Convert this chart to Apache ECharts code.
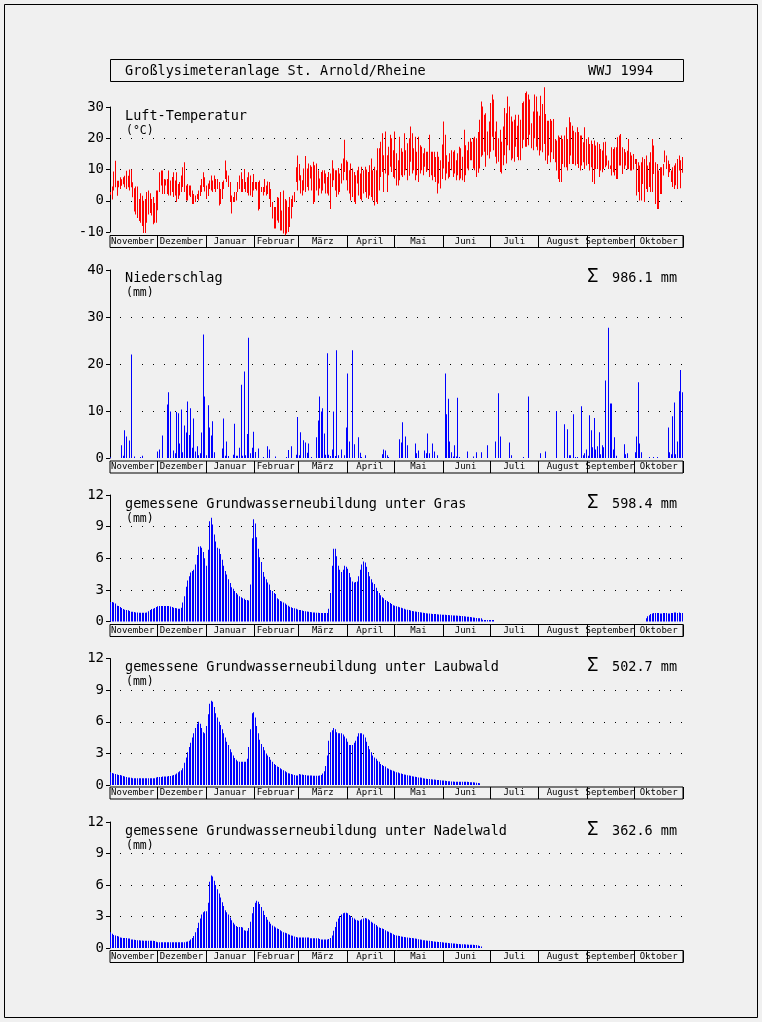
<!DOCTYPE html>
<html><head><meta charset="utf-8">
<script src="https://cdn.jsdelivr.net/npm/echarts@6/dist/echarts.min.js"></script>
<style>html,body{margin:0;padding:0;background:#f0f0f0}#c{width:762px;height:1022px}</style>
</head><body><div id="c"></div>
<script>
// ---------- DATA (hydrological year Nov 1993 - Oct 1994, daily) ----------
const monthNames = ['November','Dezember','Januar','Februar','März','April','Mai','Juni','Juli','August','September','Oktober'];
const monthLengths = [30,31,31,28,31,30,31,30,31,31,30,31];
const mainTitle = 'Großlysimeteranlage St. Arnold/Rheine';
const yearLabel = 'WWJ 1994';
const panelTitles = ['Luft-Temperatur','Niederschlag','gemessene Grundwasserneubildung unter Gras','gemessene Grundwasserneubildung unter Laubwald','gemessene Grundwasserneubildung unter Nadelwald'];
const panelUnits = ['(°C)','(mm)','(mm)','(mm)','(mm)'];
const panelSums = [null,'986.1 mm','598.4 mm','502.7 mm','362.6 mm'];

// daily maximum air temperature (°C)
const tempMax = [
2.8,4.6,9.4,12.8,6.4,6.4,7.5,6.9,7.5,8.0,9.6,8.0,10.0,10.0,5.9,4.0,4.6,4.6,0.6,2.4,1.6,0.0,0.6,2.8,3.3,2.4,0.6,1.2,-0.7,3.3,
3.3,9.1,9.7,9.7,7.0,6.8,7.0,9.7,6.5,7.6,9.1,6.5,9.1,5.4,6.0,8.1,10.7,12.3,4.9,5.4,4.9,4.9,3.3,2.2,1.7,2.2,3.3,5.0,7.0,9.1,7.5,
4.9,5.5,6.5,8.1,6.5,8.1,7.0,7.0,6.0,3.8,6.0,6.5,12.9,9.7,8.1,6.0,1.7,1.2,2.8,2.8,6.0,8.1,9.1,7.0,10.2,6.0,7.5,9.1,8.1,6.0,8.6,
6.0,6.0,6.0,6.5,4.4,4.4,7.0,4.9,6.2,6.0,3.8,-0.4,-2.0,-2.0,1.2,1.0,2.8,-3.1,3.3,0.6,0.1,-2.0,1.2,0.6,1.7,2.8,10.7,14.5,
11.8,8.2,6.6,10.3,14.3,10.3,11.9,11.4,10.9,12.5,11.4,11.9,9.8,7.1,9.2,9.8,9.8,8.7,7.6,9.2,8.7,13.0,10.3,9.8,9.8,10.5,8.7,11.9,13.5,19.5,13.0,
12.5,9.8,11.9,10.3,9.2,8.2,9.8,10.9,8.7,10.9,9.8,10.9,10.0,9.2,11.4,13.5,9.8,10.9,9.8,16.8,16.8,18.9,21.6,14.6,22.2,14.6,17.3,21.1,20.0,16.2,
22.2,15.2,13.0,20.5,16.8,15.7,21.6,16.2,18.4,20.0,23.8,21.6,16.8,20.5,15.7,20.5,17.8,17.3,15.2,16.8,15.7,15.7,21.1,15.7,15.7,15.7,14.0,15.7,14.1,13.0,18.0,
25.4,21.1,14.6,12.5,15.2,16.2,15.7,16.2,13.0,15.2,17.3,16.8,14.1,22.7,17.8,16.2,18.9,20.0,18.9,20.0,20.5,20.0,22.0,25.9,31.8,30.2,27.5,28.0,22.2,25.4,
31.3,34.0,32.4,22.2,25.4,20.0,22.7,18.9,23.8,29.7,28.0,33.4,30.2,27.0,25.4,25.9,27.5,24.0,27.5,25.9,31.3,31.8,34.5,35.0,34.0,32.4,24.8,28.6,34.0,33.4,28.6,
27.2,33.6,31.0,36.3,27.8,25.6,25.6,26.2,25.6,26.2,19.8,19.3,20.9,20.3,20.9,19.8,20.9,23.5,19.8,26.7,25.1,24.0,22.4,21.9,23.5,22.0,20.9,20.9,18.7,23.5,19.8,
20.3,18.2,19.3,18.2,19.3,17.7,18.7,18.2,16.6,16.1,18.7,18.9,14.5,12.9,11.3,17.1,16.6,17.1,17.1,20.3,20.9,21.4,17.1,16.6,15.5,16.0,19.8,15.5,14.5,15.0,
13.4,13.4,12.3,11.3,12.3,13.9,13.4,14.5,11.3,12.3,15.5,19.8,17.7,12.3,11.8,9.7,10.7,10.7,11.8,16.1,14.5,12.9,11.8,9.7,10.7,11.3,12.0,13.4,14.5,13.0,14.0
];
// daily minimum air temperature (°C)
const tempMin = [
1.9,0.4,3.3,4.3,1.6,4.3,3.8,4.8,5.3,4.3,3.8,4.3,3.3,4.3,1.1,-3.4,-4.4,-5.5,-6.5,-7.0,-8.1,-10.3,-10.3,-7.0,-4.4,-3.9,-4.7,-7.5,-7.0,-7.0,
-3.0,2.8,4.9,2.2,2.2,4.9,2.2,1.7,1.7,2.8,1.2,1.7,-0.4,0.6,1.7,2.8,4.4,2.8,0.1,0.1,1.7,1.2,-1.0,-1.0,-0.4,0.6,0.1,1.5,2.8,4.4,3.0,
0.6,1.5,3.8,3.3,2.8,3.8,2.8,3.8,-1.5,-1.0,0.6,3.8,7.0,6.0,4.4,-0.4,-4.1,-0.4,-0.4,0.1,2.8,3.8,2.8,2.8,3.8,2.8,2.5,1.7,1.7,1.2,3.3,
3.8,3.3,-3.1,-2.6,2.8,1.7,2.8,1.7,2.2,0.6,-2.0,-5.7,-8.9,-8.9,-6.3,-7.0,-9.5,-9.5,-10.5,-11.0,-10.5,-10.0,-8.4,-5.7,-2.0,-0.4,6.0,3.3,
6.5,2.3,1.7,3.3,2.8,4.4,3.3,7.1,3.3,-1.0,-0.4,3.3,1.7,3.9,2.3,3.3,5.5,2.3,2.3,1.7,-2.6,4.4,6.6,3.3,1.2,2.0,2.8,5.5,6.6,9.2,6.6,
3.3,2.3,0.1,1.2,-0.4,-1.0,5.5,1.7,0.6,0.1,2.3,2.8,1.0,0.6,1.7,1.2,0.1,-1.5,-0.4,-1.0,3.3,7.6,9.2,2.8,8.7,2.8,8.2,10.9,9.2,7.6,
7.1,4.9,4.9,6.6,8.2,7.6,8.2,9.8,6.6,8.0,12.5,8.7,9.8,6.6,8.2,6.0,8.7,9.8,8.2,10.9,9.2,9.8,7.6,8.2,6.6,7.6,6.0,2.3,5.5,3.9,7.0,
10.3,6.6,8.7,7.1,7.6,9.8,7.6,8.7,6.6,8.2,6.6,7.1,6.6,6.0,8.2,10.3,9.8,13.0,13.0,10.3,9.8,7.6,9.0,10.3,14.1,14.6,15.7,10.9,14.6,13.5,
15.7,20.5,16.2,14.1,11.9,12.5,9.2,8.7,11.4,14.6,11.9,17.8,16.2,13.0,13.5,12.5,17.3,14.0,13.0,13.0,16.8,19.5,17.3,17.3,17.8,21.1,16.8,16.2,20.0,17.3,16.2,
14.5,16.1,15.5,18.2,12.9,11.8,14.5,12.3,15.5,13.4,12.3,9.7,7.0,6.0,6.0,11.8,10.7,10.7,9.7,11.8,14.5,11.8,11.8,11.3,11.8,10.5,9.7,11.3,12.3,10.2,11.3,
11.8,9.7,10.7,6.0,5.4,10.2,10.2,7.6,9.7,9.1,10.2,10.7,11.3,10.2,10.2,8.1,9.1,8.1,7.0,7.0,11.3,11.3,8.6,10.2,11.3,10.0,10.2,9.7,9.7,10.0,
11.8,1.7,2.8,0.1,0.1,5.4,-0.4,3.8,2.8,4.4,2.8,2.8,8.6,-1.0,-2.6,-2.6,2.2,2.2,8.1,12.3,10.2,7.6,9.1,6.0,4.4,3.8,5.0,3.8,9.7,4.0,9.0
];
// precipitation events [day index, mm]; days not listed had no precipitation
const precipEvents = [
[0,0.2],[7,2.7],[8,0.5],[9,5.9],[10,4.6],[12,3.7],[13,22.0],[15,0.3],[19,0.2],[20,0.5],
[30,1.4],[31,1.8],[33,4.8],[36,11.4],[37,14.0],[38,9.9],[40,1.6],[41,1.0],[42,9.8],[43,9.5],[44,3.1],[45,10.3],[46,1.2],[47,6.9],[48,5.4],[49,12.0],[50,4.9],[51,10.6],[52,2.2],[53,8.4],[54,1.4],[55,2.5],[56,0.6],[57,1.0],[58,5.4],[59,26.3],[60,13.1],
[61,0.6],[62,11.2],[63,6.5],[64,4.8],[65,7.8],[66,1.2],[71,2.0],[72,8.4],[73,0.5],[74,3.5],[75,0.4],[78,0.7],[79,7.3],[80,0.5],[81,0.5],[82,2.2],[83,15.6],[84,0.5],[85,18.4],[86,0.6],[87,5.1],[88,25.6],[89,1.0],[90,2.2],[91,5.6],
[92,1.3],[94,2.0],[97,0.2],[100,2.5],[101,1.8],[105,0.3],[112,0.2],[113,1.7],[115,2.5],[118,0.7],[119,8.7],
[120,0.6],[121,5.5],[123,3.8],[124,3.3],[125,1.1],[126,3.1],[128,0.2],[131,4.4],[132,8.0],[133,13.1],[134,9.9],[135,10.6],[136,5.2],[137,0.7],[138,22.3],[139,0.7],[140,0.4],[141,1.8],[142,9.9],[143,0.4],[144,22.9],[145,0.6],[147,1.8],[149,0.6],[150,6.5],
[151,18.0],[152,3.5],[154,22.9],[155,2.9],[158,4.4],[159,1.1],[160,0.2],[162,0.6],[173,0.8],[174,1.8],[175,1.6],[176,0.6],[177,0.2],
[184,4.0],[185,3.3],[186,7.6],[188,4.6],[189,2.7],[194,3.1],[195,1.0],[196,1.6],[200,1.6],[201,1.0],[202,5.2],[203,1.0],[205,3.1],[206,1.4],[208,0.6],
[213,18.0],[214,9.3],[215,12.6],[216,3.5],[217,1.2],[218,0.3],[219,2.7],[220,0.3],[221,12.8],[222,0.2],[227,1.4],[231,0.3],[233,1.2],[236,1.2],[240,2.7],
[245,3.5],[247,13.8],[248,4.6],[254,3.3],[255,0.6],[263,0.2],[266,13.1],
[274,1.0],[277,1.4],[284,10.0],[289,7.2],[291,6.1],[292,0.6],[293,0.6],[295,9.3],[296,0.2],[297,0.2],[300,11.0],[301,0.6],[302,1.0],[303,1.8],
[304,0.5],[305,9.1],[306,5.9],[307,2.3],[308,8.5],[309,1.8],[310,2.5],[311,5.5],[312,0.8],[313,2.7],[314,2.3],[315,16.5],[317,27.7],[318,11.6],[319,11.6],[320,1.8],[321,4.4],[322,0.5],[327,2.9],[328,0.8],[329,1.0],
[334,1.2],[335,4.6],[336,16.1],[337,3.1],[338,1.2],[343,0.2],[346,0.2],[348,0.2],[355,6.5],[356,1.2],[357,0.8],[358,8.9],[359,11.8],[360,0.8],[361,3.5],[362,14.2],[363,18.7],[364,14.0]
];
// groundwater recharge under grass (mm/day)
const gras = [
1.85,1.85,1.8,1.7,1.5,1.48,1.37,1.28,1.18,1.12,1.1,1.07,1.0,0.93,0.92,0.9,0.86,0.86,0.84,0.82,0.82,0.82,0.82,0.86,0.98,1.1,1.18,1.2,1.27,1.38,
1.45,1.48,1.48,1.48,1.48,1.48,1.48,1.48,1.42,1.38,1.3,1.27,1.25,1.2,1.2,1.3,1.8,2.4,3.3,3.9,4.3,4.65,4.8,4.9,5.4,6.3,7.1,7.15,7.0,6.6,6.0,
5.3,6.8,9.5,9.85,9.2,8.25,7.6,7.0,6.9,6.4,5.85,5.3,4.8,4.45,4.0,3.65,3.25,3.1,2.9,2.7,2.55,2.4,2.3,2.2,2.15,2.05,2.05,2.0,3.5,7.9,9.7,
9.3,8.0,6.9,6.1,5.65,4.7,4.25,4.0,3.7,3.5,3.0,2.9,2.7,2.6,2.2,2.1,1.95,1.9,1.8,1.7,1.6,1.5,1.4,1.35,1.27,1.25,1.2,1.15,
1.1,1.08,1.05,1.0,0.98,0.95,0.92,0.9,0.88,0.86,0.85,0.83,0.82,0.8,0.8,0.8,0.8,0.8,0.8,1.2,2.7,5.3,6.9,6.9,6.2,5.3,4.9,4.7,4.9,5.3,5.2,
5.0,4.6,4.2,3.8,3.7,3.75,3.8,4.3,4.9,5.4,5.7,5.6,5.2,4.7,4.3,4.0,3.7,3.55,3.2,2.9,2.7,2.5,2.3,2.2,2.05,1.95,1.85,1.75,1.65,1.55,
1.5,1.45,1.4,1.35,1.3,1.25,1.2,1.15,1.12,1.08,1.05,1.0,0.98,0.95,0.92,0.9,0.88,0.85,0.83,0.8,0.78,0.77,0.75,0.73,0.72,0.7,0.7,0.68,0.67,0.66,0.65,
0.64,0.63,0.62,0.61,0.6,0.59,0.58,0.57,0.56,0.55,0.54,0.53,0.52,0.5,0.48,0.46,0.44,0.42,0.4,0.38,0.35,0.33,0.32,0.3,0.3,0.16,0.15,0.15,0.15,0.15,
0.15,0.15,0.15,0,0,0,0,0,0,0,0,0,0,0,0,0,0,0,0,0,0,0,0,0,0,0,0,0,0,0,0,
0,0,0,0,0,0,0,0,0,0,0,0,0,0,0,0,0,0,0,0,0,0,0,0,0,0,0,0,0,0,0,
0,0,0,0,0,0,0,0,0,0,0,0,0,0,0,0,0,0,0,0,0,0,0,0,0,0,0,0,0,0,
0,0,0,0,0,0,0,0.3,0.5,0.6,0.7,0.75,0.8,0.8,0.8,0.8,0.75,0.75,0.8,0.8,0.8,0.75,0.75,0.8,0.8,0.85,0.85,0.8,0.85,0.8,0.8
];
// groundwater recharge under deciduous forest (mm/day)
const laubwald = [
1.2,1.15,1.1,1.05,1.0,0.95,0.95,0.9,0.85,0.8,0.75,0.72,0.7,0.68,0.65,0.65,0.65,0.65,0.65,0.65,0.65,0.65,0.65,0.65,0.65,0.65,0.65,0.65,0.65,0.7,
0.75,0.75,0.75,0.8,0.8,0.8,0.8,0.85,0.85,0.9,0.95,1.0,1.1,1.2,1.3,1.4,1.6,2.1,2.6,3.1,3.6,4.0,4.5,4.9,5.4,5.8,6.0,5.8,5.4,5.0,4.9,
5.6,6.7,7.7,8.0,7.9,7.4,6.8,6.4,6.0,5.7,5.3,4.9,4.5,4.1,3.8,3.4,3.1,2.8,2.55,2.4,2.25,2.2,2.2,2.2,2.2,2.2,2.5,3.6,5.3,6.8,6.9,
6.4,5.6,4.9,4.3,3.9,3.6,3.3,3.0,2.8,2.65,2.4,2.2,2.0,1.9,1.75,1.7,1.6,1.5,1.4,1.3,1.2,1.12,1.08,1.05,1.0,0.95,0.9,0.9,
1.05,1.0,1.0,0.95,0.95,0.9,0.9,0.9,0.9,0.87,0.87,0.87,0.87,0.9,0.95,1.1,1.3,1.8,2.8,4.2,5.0,5.2,5.4,5.3,5.0,4.9,4.9,4.9,4.8,4.6,4.4,
4.1,3.8,3.8,3.8,4.0,4.2,4.6,4.9,4.9,4.9,4.8,4.5,4.1,3.7,3.4,3.1,2.8,2.6,2.5,2.3,2.2,2.0,1.9,1.8,1.75,1.6,1.55,1.45,1.4,1.35,
1.28,1.22,1.18,1.12,1.08,1.05,1.0,0.97,0.93,0.9,0.87,0.83,0.8,0.78,0.75,0.72,0.7,0.68,0.65,0.62,0.6,0.58,0.56,0.55,0.53,0.52,0.5,0.48,0.47,0.45,0.43,
0.42,0.4,0.38,0.36,0.35,0.34,0.33,0.32,0.32,0.31,0.31,0.3,0.3,0.3,0.3,0.3,0.28,0.27,0.26,0.25,0.24,0.22,0.2,0.16,0,0,0,0,0,0,
0,0,0,0,0,0,0,0,0,0,0,0,0,0,0,0,0,0,0,0,0,0,0,0,0,0,0,0,0,0,0,
0,0,0,0,0,0,0,0,0,0,0,0,0,0,0,0,0,0,0,0,0,0,0,0,0,0,0,0,0,0,0,
0,0,0,0,0,0,0,0,0,0,0,0,0,0,0,0,0,0,0,0,0,0,0,0,0,0,0,0,0,0,
0,0,0,0,0,0,0,0,0,0,0,0,0,0,0,0,0,0,0,0,0,0,0,0,0,0,0,0,0,0,0
];
// groundwater recharge under coniferous forest (mm/day)
const nadelwald = [
1.5,1.35,1.25,1.2,1.15,1.1,1.0,0.98,0.95,0.95,0.95,0.9,0.9,0.82,0.8,0.78,0.77,0.75,0.74,0.72,0.72,0.7,0.7,0.7,0.7,0.7,0.7,0.7,0.67,0.6,
0.55,0.55,0.55,0.55,0.55,0.55,0.55,0.55,0.55,0.55,0.55,0.55,0.55,0.55,0.55,0.55,0.55,0.55,0.6,0.63,0.7,0.8,0.95,1.15,1.5,1.9,2.4,2.8,3.2,3.4,3.5,
3.5,4.3,6.3,6.9,6.8,6.4,6.0,5.6,5.2,4.8,4.35,4.0,3.6,3.4,3.2,2.9,2.65,2.4,2.25,2.1,2.0,2.0,2.0,1.95,1.7,1.65,1.65,1.9,2.5,3.3,3.9,
4.3,4.5,4.4,4.2,3.9,3.55,3.15,2.95,2.7,2.5,2.3,2.15,2.05,1.95,1.85,1.8,1.7,1.6,1.5,1.45,1.4,1.32,1.27,1.2,1.17,1.1,1.05,1.0,
1.0,1.0,1.0,1.0,1.0,1.0,1.0,0.93,0.93,0.93,0.93,0.93,0.93,0.85,0.8,0.8,0.8,0.8,0.8,0.85,0.95,1.2,1.65,2.0,2.5,2.8,3.05,3.2,3.3,3.35,3.35,
3.3,3.15,3.05,2.9,2.8,2.7,2.65,2.6,2.65,2.75,2.8,2.85,2.8,2.75,2.65,2.5,2.4,2.3,2.2,2.05,1.95,1.9,1.85,1.8,1.7,1.6,1.55,1.45,1.4,1.3,
1.25,1.2,1.17,1.15,1.1,1.07,1.05,1.02,1.0,0.98,0.96,0.95,0.92,0.9,0.87,0.84,0.8,0.78,0.75,0.73,0.71,0.7,0.68,0.66,0.64,0.62,0.6,0.59,0.58,0.57,0.55,
0.53,0.51,0.5,0.48,0.46,0.45,0.43,0.42,0.4,0.38,0.37,0.36,0.35,0.35,0.34,0.33,0.32,0.32,0.31,0.3,0.29,0.28,0.25,0.2,0.15,0,0,0,0,0,
0,0,0,0,0,0,0,0,0,0,0,0,0,0,0,0,0,0,0,0,0,0,0,0,0,0,0,0,0,0,0,
0,0,0,0,0,0,0,0,0,0,0,0,0,0,0,0,0,0,0,0,0,0,0,0,0,0,0,0,0,0,0,
0,0,0,0,0,0,0,0,0,0,0,0,0,0,0,0,0,0,0,0,0,0,0,0,0,0,0,0,0,0,
0,0,0,0,0,0,0,0,0,0,0,0,0,0,0,0,0,0,0,0,0,0,0,0,0,0,0,0,0,0,0
];

// ---------- BUILD ----------
const nDays = monthLengths.reduce((a,b)=>a+b,0);
const days = [];
for (let i = 0; i < nDays; i++) days.push(String(i));
const monthStart = new Set(); const labelAt = {};
{ let s = 0; monthLengths.forEach((len, m) => { monthStart.add(s); labelAt[s + Math.floor((len-1)/2)] = monthNames[m]; s += len; }); }
const precip = new Array(nDays).fill(0);
precipEvents.forEach(([d, v]) => { precip[d] = v; });

const MONO = '"DejaVu Sans Mono", monospace';
const panels = [
  {top:107,   height:125,   min:-10, max:30, interval:10, band:235.5},
  {top:270,   height:188,   min:0,   max:40, interval:10, band:461},
  {top:495,   height:126.5, min:0,   max:12, interval:3,  band:624.5},
  {top:658.5, height:126.5, min:0,   max:12, interval:3,  band:787},
  {top:822,   height:126,   min:0,   max:12, interval:3,  band:950.5}
];
const grids = [], xAxes = [], yAxes = [];
panels.forEach((p, i) => {
  grids.push({left:110, width:573, top:p.top, height:p.height, show:false});
  grids.push({left:110, width:573, top:p.band, height:12, show:true, borderColor:'#000', borderWidth:1, backgroundColor:'transparent'});
  xAxes.push({type:'category', gridIndex:2*i, data:days, show:false});
  xAxes.push({type:'category', gridIndex:2*i+1, data:days,
    axisLine:{show:false}, axisTick:{show:false},
    splitLine:{show:true, interval:(idx)=>idx>0 && monthStart.has(idx), lineStyle:{color:'#000', width:1}},
    axisLabel:{show:true, interval:(idx)=>labelAt[idx] !== undefined, formatter:(v, idx)=>labelAt[idx] || '',
      fontFamily:MONO, fontSize:9, color:'#000', margin:-6, verticalAlign:'middle'}});
  yAxes.push({type:'value', gridIndex:2*i, min:p.min, max:p.max, interval:p.interval,
    axisLine:{show:true, lineStyle:{color:'#000', width:1}},
    axisTick:{show:true, length:4, lineStyle:{color:'#000'}},
    axisLabel:{fontFamily:MONO, fontSize:14, color:'#000', margin:6},
    splitLine:{show:true, showMinLine:false, showMaxLine:false, lineStyle:{color:'#000', width:1, type:[1,10], dashOffset:-10}}});
  yAxes.push({type:'value', gridIndex:2*i+1, show:false, min:0, max:1});
});

function barRender(color) {
  return function (params, api) {
    const v = api.value(1);
    if (!(v > 0)) return null;
    const b = api.coord([api.value(0), 0]);
    const t = api.coord([api.value(0), v]);
    return {type:'rect', shape:{x:Math.floor(b[0]), y:t[1], width:1, height:b[1]-t[1]}, style:{fill:color}};
  };
}
const series = [
  {type:'custom', xAxisIndex:0, yAxisIndex:0, clip:false, encode:{x:0, y:[1,2]},
   data: tempMax.map((mx, i) => [i, tempMin[i], mx]),
   renderItem: function (params, api) {
     const lo = api.coord([api.value(0), api.value(1)]);
     const hi = api.coord([api.value(0), api.value(2)]);
     return {type:'rect', shape:{x:Math.floor(lo[0]), y:hi[1], width:1, height:Math.max(1, lo[1]-hi[1])}, style:{fill:'#ff0000'}};
   }},
  {type:'custom', xAxisIndex:2, yAxisIndex:2, encode:{x:0, y:1}, data: precip.map((v,i)=>[i,v]), renderItem: barRender('#0000ff')},
  {type:'custom', xAxisIndex:4, yAxisIndex:4, encode:{x:0, y:1}, data: gras.map((v,i)=>[i,v]), renderItem: barRender('#0000ff')},
  {type:'custom', xAxisIndex:6, yAxisIndex:6, encode:{x:0, y:1}, data: laubwald.map((v,i)=>[i,v]), renderItem: barRender('#0000ff')},
  {type:'custom', xAxisIndex:8, yAxisIndex:8, encode:{x:0, y:1}, data: nadelwald.map((v,i)=>[i,v]), renderItem: barRender('#0000ff')}
];

function txt(x, y, text, size, extra) {
  return Object.assign({type:'text', x:x, y:y, silent:true,
    style:{text:text, fill:'#000', font:size + 'px ' + MONO, align:'left', verticalAlign:'middle'}}, extra || {});
}
const titleY = [116, 278, 504, 667, 831];
const graphic = [
  {type:'rect', shape:{x:4.5, y:4.5, width:753, height:1013}, style:{fill:null, stroke:'#000', lineWidth:1}, silent:true},
  {type:'rect', shape:{x:110.5, y:59.5, width:573, height:22}, style:{fill:null, stroke:'#000', lineWidth:1}, silent:true},
  txt(125, 71, mainTitle, 13.5),
  txt(588, 71, yearLabel, 13.5)
];
panelTitles.forEach((t, i) => {
  graphic.push(txt(125, titleY[i], t, 13.5));
  graphic.push(txt(126, titleY[i] + 15, panelUnits[i], 11.5));
  if (panelSums[i]) {
    graphic.push(txt(587, titleY[i] - 1, 'Σ', 19));
    graphic.push(txt(612, titleY[i], panelSums[i], 13.5));
  }
});

const chart = echarts.init(document.getElementById('c'), null, {renderer:'canvas'});
chart.setOption({
  backgroundColor:'#f0f0f0', animation:false,
  grid:grids, xAxis:xAxes, yAxis:yAxes, series:series, graphic:graphic
});
</script></body></html>
